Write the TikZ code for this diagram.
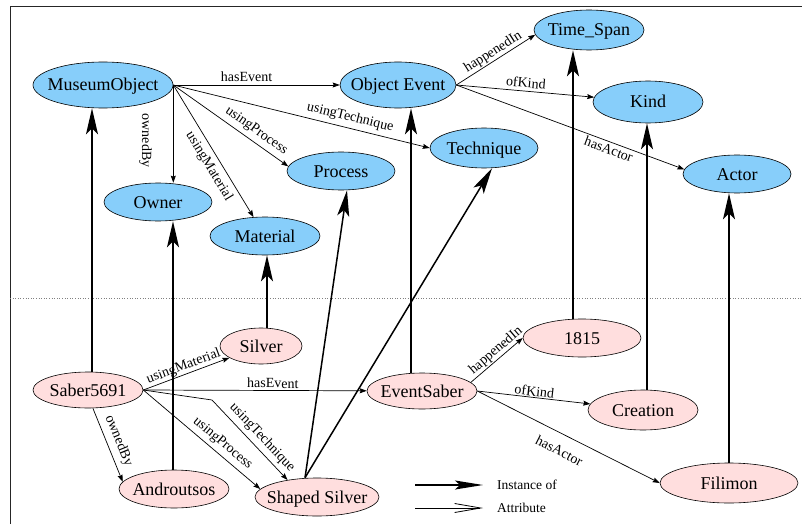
\documentclass[tikz,border=0pt]{standalone}
\usepackage{fontspec}
\setmainfont{Liberation Serif}
\usetikzlibrary{shapes.geometric,arrows.meta,calc}
\definecolor{clsblue}{RGB}{135,206,250}
\definecolor{objpink}{RGB}{255,222,222}
\newcommand{\nt}[1]{\makebox[0pt]{#1}}
\begin{document}
\begin{tikzpicture}[x=1pt,y=-1pt,
  base/.style={ellipse,draw,line width=0.6pt,inner sep=0pt,text height=12pt,text depth=0pt,font=\fontsize{18}{20}\selectfont},
  cls/.style={base,fill=clsblue},
  obj/.style={base,fill=objpink},
  inst/.style={line width=1.5pt,-{Stealth[length=26pt,width=12pt,inset=6pt]}},
  attr/.style={line width=0.7pt,-{Stealth[length=7pt,width=5pt,inset=1pt]}},
  lbl/.style={font=\fontsize{14}{16}\selectfont,sloped,inner sep=0pt},
  legtxt/.style={font=\fontsize{13.5}{15}\selectfont,inner sep=0pt,anchor=west}
]
\useasboundingbox (0,0) rectangle (802,524);
% frame and separator
\draw[line width=1pt,black!85] (10,524) -- (10,7) -- (802,7);
\draw[gray,dotted,line width=0.6pt] (10,298) -- (802,298);

% class nodes
\node[cls,minimum width=140pt,minimum height=46pt] (mo) at (103,85) {\nt{MuseumObject}};
\node[cls,minimum width=116pt,minimum height=46pt] (oe) at (398,85) {\nt{Object Event}};
\node[cls,minimum width=110pt,minimum height=40pt] (ts) at (589,30) {\nt{Time\_Span}};
\node[cls,minimum width=110pt,minimum height=42pt] (kind) at (648,102) {\nt{Kind}};
\node[cls,minimum width=108pt,minimum height=40pt] (tech) at (484,148) {\nt{Technique}};
\node[cls,minimum width=108pt,minimum height=38pt] (actor) at (737,174) {\nt{Actor}};
\node[cls,minimum width=108pt,minimum height=38pt] (proc) at (341,171) {\nt{Process}};
\node[cls,minimum width=108pt,minimum height=38pt] (owner) at (158,202) {\nt{Owner}};
\node[cls,minimum width=110pt,minimum height=38pt] (mat) at (265,236) {\nt{Material}};

% instance nodes
\node[obj,minimum width=82pt,minimum height=36pt] (silver) at (261,346) {\nt{Silver}};
\node[obj,minimum width=110pt,minimum height=36pt] (saber) at (88,390) {\nt{Saber5691}};
\node[obj,minimum width=110pt,minimum height=38pt] (andr) at (174,489) {\nt{Androutsos}};
\node[obj,minimum width=124pt,minimum height=38pt] (shaped) at (317,497) {\nt{Shaped Silver}};
\node[obj,minimum width=110pt,minimum height=36pt] (es) at (422,391) {\nt{EventSaber}};
\node[obj,minimum width=118pt,minimum height=38pt] (y1815) at (582,338) {\nt{1815}};
\node[obj,minimum width=110pt,minimum height=40pt] (creat) at (643,410) {\nt{Creation}};
\node[obj,minimum width=138pt,minimum height=40pt] (fil) at (729,483) {\nt{Filimon}};

% attribute edges (classes)
\draw[attr] (mo.east) -- node[lbl,above=3pt,pos=0.44]{hasEvent} (oe);
\draw[attr] (mo.east) -- node[lbl,below=21pt,pos=0.57]{ownedBy} (mo.east |- owner.north);
\draw[attr] (mo.east) -- node[lbl,below=5pt,pos=0.57]{usingMaterial} (mat);
\draw[attr] (mo.east) -- node[lbl,above=4pt,pos=0.67]{usingProcess} (proc.175);
\draw[attr] (mo.east) -- node[lbl,above=4pt,pos=0.68]{usingTechnique} (tech.west);
\draw[attr] (oe.east) -- node[lbl,above=1pt,pos=0.52]{happenedIn} (ts.185);
\draw[attr] (oe.east) -- node[lbl,above=3pt,pos=0.5]{ofKind} (kind);
\draw[attr] (oe.east) -- node[lbl,below=2pt,pos=0.68]{hasActor} (actor.175);

% attribute edges (instances)
\coordinate (bend) at (212,400);
\draw[attr] (saber.east) -- node[lbl,above=1pt,pos=0.5]{usingMaterial} (silver);
\draw[attr] (saber.east) -- node[lbl,above=2pt,pos=0.58]{hasEvent} (es);
\draw[attr] (saber.285) -- node[lbl,above=5pt,pos=0.5]{ownedBy} (andr.172);
\draw[attr] (saber.east) -- node[lbl,above=4pt,pos=0.62]{usingProcess} (shaped.172);
\draw[attr] (saber.east) -- (bend) -- node[lbl,above=4pt,pos=0.56]{usingTechnique} (shaped.150);
\draw[attr] (es.10) -- node[lbl,above=1pt,pos=0.58]{happenedIn} (y1815.west);
\draw[attr] (es.east) -- node[lbl,above=1pt,pos=0.5]{ofKind} (creat);
\draw[attr] (es.east) -- node[lbl,below=11pt,pos=0.49]{hasActor} (fil.west);

% instance-of edges
\draw[inst] ([xshift=4pt]saber.north) -- ([xshift=-11pt]mo.south);
\draw[inst] ([xshift=-1pt]andr.north) -- ([xshift=15pt]owner.south);
\draw[inst] ([xshift=6pt]silver.north) -- ([xshift=2pt]mat.south);
\draw[inst] ([xshift=-12pt]shaped.north) -- ([xshift=6pt]proc.south);
\draw[inst] ([xshift=-12pt]shaped.north) -- ([xshift=8pt]tech.south);
\draw[inst] ([xshift=-11pt]es.north) -- ([xshift=13pt]oe.south);
\draw[inst] ([xshift=-9pt]y1815.north) -- ([xshift=-16pt]ts.south);
\draw[inst] ([xshift=4pt]creat.north) -- ([xshift=-1pt]kind.south);
\draw[inst] (fil.north) -- ([xshift=-8pt]actor.south);

% legend
\node[legtxt] (leginst) at (497,485) {Instance of};
\node[legtxt] (legattr) at (497,508) {Attribute};
\coordinate (l1a) at (415,485);
\coordinate (l1b) at (483,485);
\coordinate (l2a) at (415,508);
\coordinate (l2b) at (483,508);
\draw[line width=1.5pt,-{Stealth[length=28pt,width=9pt,inset=5pt]}] (l1a) -- (l1b);
\draw[line width=0.8pt,-{Straight Barb[length=26pt,width=9pt]}] (l2a) -- (l2b);
\end{tikzpicture}
\end{document}
